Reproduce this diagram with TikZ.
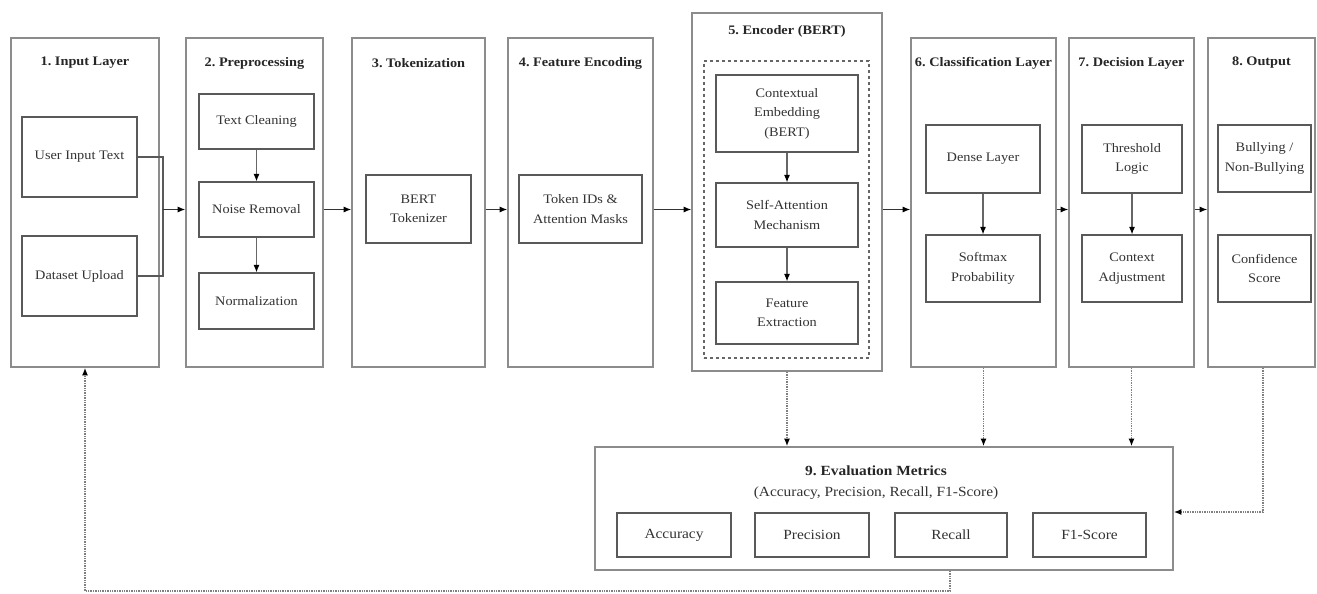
\documentclass[tikz,border=0pt]{standalone}
\usepackage{fontspec}
\setmainfont{Liberation Serif}[FakeStretch=1.1]
\usetikzlibrary{arrows.meta,calc}
\frenchspacing
\tikzset{
  col/.style={draw=black!45, line width=1.6pt, inner sep=0pt},
  inbox/.style={draw=black!65, line width=1.2pt, align=center, inner sep=0pt,
    font=\fontsize{13}{19.5}\selectfont, text=black!80},
  ttl/.style={font=\bfseries\fontsize{13}{16}\selectfont, text=black!85, inner sep=0pt},
  arr/.style={-{Latex[length=7.5pt,width=6pt,color=black]}, line width=1.1pt, draw=black!80},
  inarr/.style={-{Latex[length=7.5pt,width=6pt,color=black]}, line width=1.1pt, draw=black!60},
  dotarr/.style={densely dotted, line width=1.4pt, draw=black!50, -{Latex[length=7.5pt,width=6pt,color=black]}},
}
\begin{document}
\begin{tikzpicture}[x=1pt,y=-1pt]
\useasboundingbox (0,0) rectangle (1317,594);
\fill[white] (0,0) rectangle (1317,594);

% columns
\node[col, minimum width=148, minimum height=329] (c1) at (85,202.5) {};
\node[col, minimum width=137, minimum height=329] (c2) at (254.5,202.5) {};
\node[col, minimum width=133, minimum height=329] (c3) at (418.5,202.5) {};
\node[col, minimum width=145, minimum height=329] (c4) at (580.5,202.5) {};
\node[col, minimum width=190, minimum height=358] (c5) at (787,192) {};
\node[col, minimum width=145, minimum height=329] (c6) at (983.5,202.5) {};
\node[col, minimum width=125, minimum height=329] (c7) at (1131.5,202.5) {};
\node[col, minimum width=107, minimum height=329] (c8) at (1261.5,202.5) {};

% titles
\node[ttl] (t1) at (85,63) {1. Input Layer};
\node[ttl] (t2) at (254.5,63) {2. Preprocessing};
\node[ttl] (t3) at (418.5,63) {3. Tokenization};
\node[ttl] (t4) at (580.5,63) {4. Feature Encoding};
\node[ttl] (t5) at (787,31) {5. Encoder (BERT)};
\node[ttl] (t6) at (983.5,63) {6. Classification Layer};
\node[ttl] (t7) at (1131.5,63) {7. Decision Layer};
\node[ttl] (t8) at (1261.5,63) {8. Output};

% column 1
\node[inbox, minimum width=115, minimum height=80] (uit) at (79.5,157) {User Input Text};
\node[inbox, minimum width=115, minimum height=80] (du) at (79.5,276) {Dataset Upload};
\coordinate (m1) at (163,157);
\coordinate (m2) at (163,276);
\coordinate (m3) at (163,209.5);
\draw[line width=1.2pt, draw=black!65] (uit.east) -- (m1) -- (m2) -- (du.east);

% column 2
\node[inbox, minimum width=115, minimum height=55] (tc) at (256.5,121.5) {Text Cleaning};
\node[inbox, minimum width=115, minimum height=55] (nr) at (256.5,209.5) {Noise Removal};
\node[inbox, minimum width=115, minimum height=56] (nm) at (256.5,301) {Normalization};
\draw[inarr] (tc) -- (nr);
\draw[inarr] (nr) -- (nm);

% column 3, 4
\node[inbox, minimum width=105, minimum height=68] (bt) at (418.5,209) {BERT\\Tokenizer};
\node[inbox, minimum width=123, minimum height=68] (tam) at (580.5,209) {Token IDs \&\\Attention Masks};

% column 5
\node[draw=black!60, dashed, line width=1.2pt, minimum width=165, minimum height=297, inner sep=0pt] (enc) at (786.5,209.5) {};
\node[inbox, minimum width=142, minimum height=77] (ce) at (787,113.5) {Contextual\\Embedding\\(BERT)};
\node[inbox, minimum width=142, minimum height=64] (sa) at (787,215) {Self-Attention\\Mechanism};
\node[inbox, minimum width=142, minimum height=62] (fe) at (787,313) {Feature\\Extraction};
\draw[inarr] (ce) -- (sa);
\draw[inarr] (sa) -- (fe);

% column 6
\node[inbox, minimum width=114, minimum height=68] (dl) at (983,159) {Dense Layer};
\node[inbox, minimum width=114, minimum height=67] (sm) at (983,268.5) {Softmax\\Probability};
\draw[inarr] (dl) -- (sm);

% column 7
\node[inbox, minimum width=100, minimum height=68] (th) at (1132,159) {Threshold\\Logic};
\node[inbox, minimum width=100, minimum height=67] (ca) at (1132,268.5) {Context\\Adjustment};
\draw[inarr] (th) -- (ca);

% column 8
\node[inbox, minimum width=93, minimum height=67] (bnb) at (1264.5,158.5) {Bullying /\\Non-Bullying};
\node[inbox, minimum width=93, minimum height=67] (cs) at (1264.5,268.5) {Confidence\\Score};

% main flow arrows
\draw[arr] (m3) -- (c2.west |- m3);
\draw[arr] (c2.east |- nr) -- (c3.west |- nr);
\draw[arr] (c3.east |- nr) -- (c4.west |- nr);
\draw[arr] (c4.east |- nr) -- (c5.west |- nr);
\draw[arr] (c5.east |- nr) -- (c6.west |- nr);
\draw[arr] (c6.east |- nr) -- (c7.west |- nr);
\draw[arr] (c7.east |- nr) -- (c8.west |- nr);

% evaluation
\node[col, minimum width=578, minimum height=123] (ev) at (884,508.5) {};
\node[font=\bfseries\fontsize{14}{17}\selectfont, text=black!85, inner sep=0pt] (evt) at (876,471) {9. Evaluation Metrics};
\node[font=\fontsize{14}{17}\selectfont, text=black!80, inner sep=0pt] (evs) at (876,493) {(Accuracy, Precision, Recall, F1-Score)};
\node[inbox, minimum width=114, minimum height=44, font=\fontsize{14}{17}\selectfont] (acc) at (674,535) {Accuracy};
\node[inbox, minimum width=114, minimum height=44, font=\fontsize{14}{17}\selectfont] (pre) at (812,535) {Precision};
\node[inbox, minimum width=112, minimum height=44, font=\fontsize{14}{17}\selectfont] (rec) at (951,535) {Recall};
\node[inbox, minimum width=113, minimum height=44, font=\fontsize{14}{17}\selectfont] (f1) at (1089.5,535) {F1-Score};

% dotted feedback arrows
\draw[dotarr] (c5.south) -- (c5.south |- ev.north);
\draw[dotarr] (c6.south) -- (c6.south |- ev.north);
\draw[dotarr] (c7.south) -- (c7.south |- ev.north);
\coordinate (o1) at (1263,512);
\draw[dotarr] (c8.south -| o1) -- (o1) -- (ev.east |- o1);
\coordinate (fb1) at (950,591);
\coordinate (fb2) at (85,591);
\draw[dotarr] (ev.south -| fb1) -- (fb1) -- (fb2) -- (c1.south -| fb2);
\end{tikzpicture}
\end{document}
